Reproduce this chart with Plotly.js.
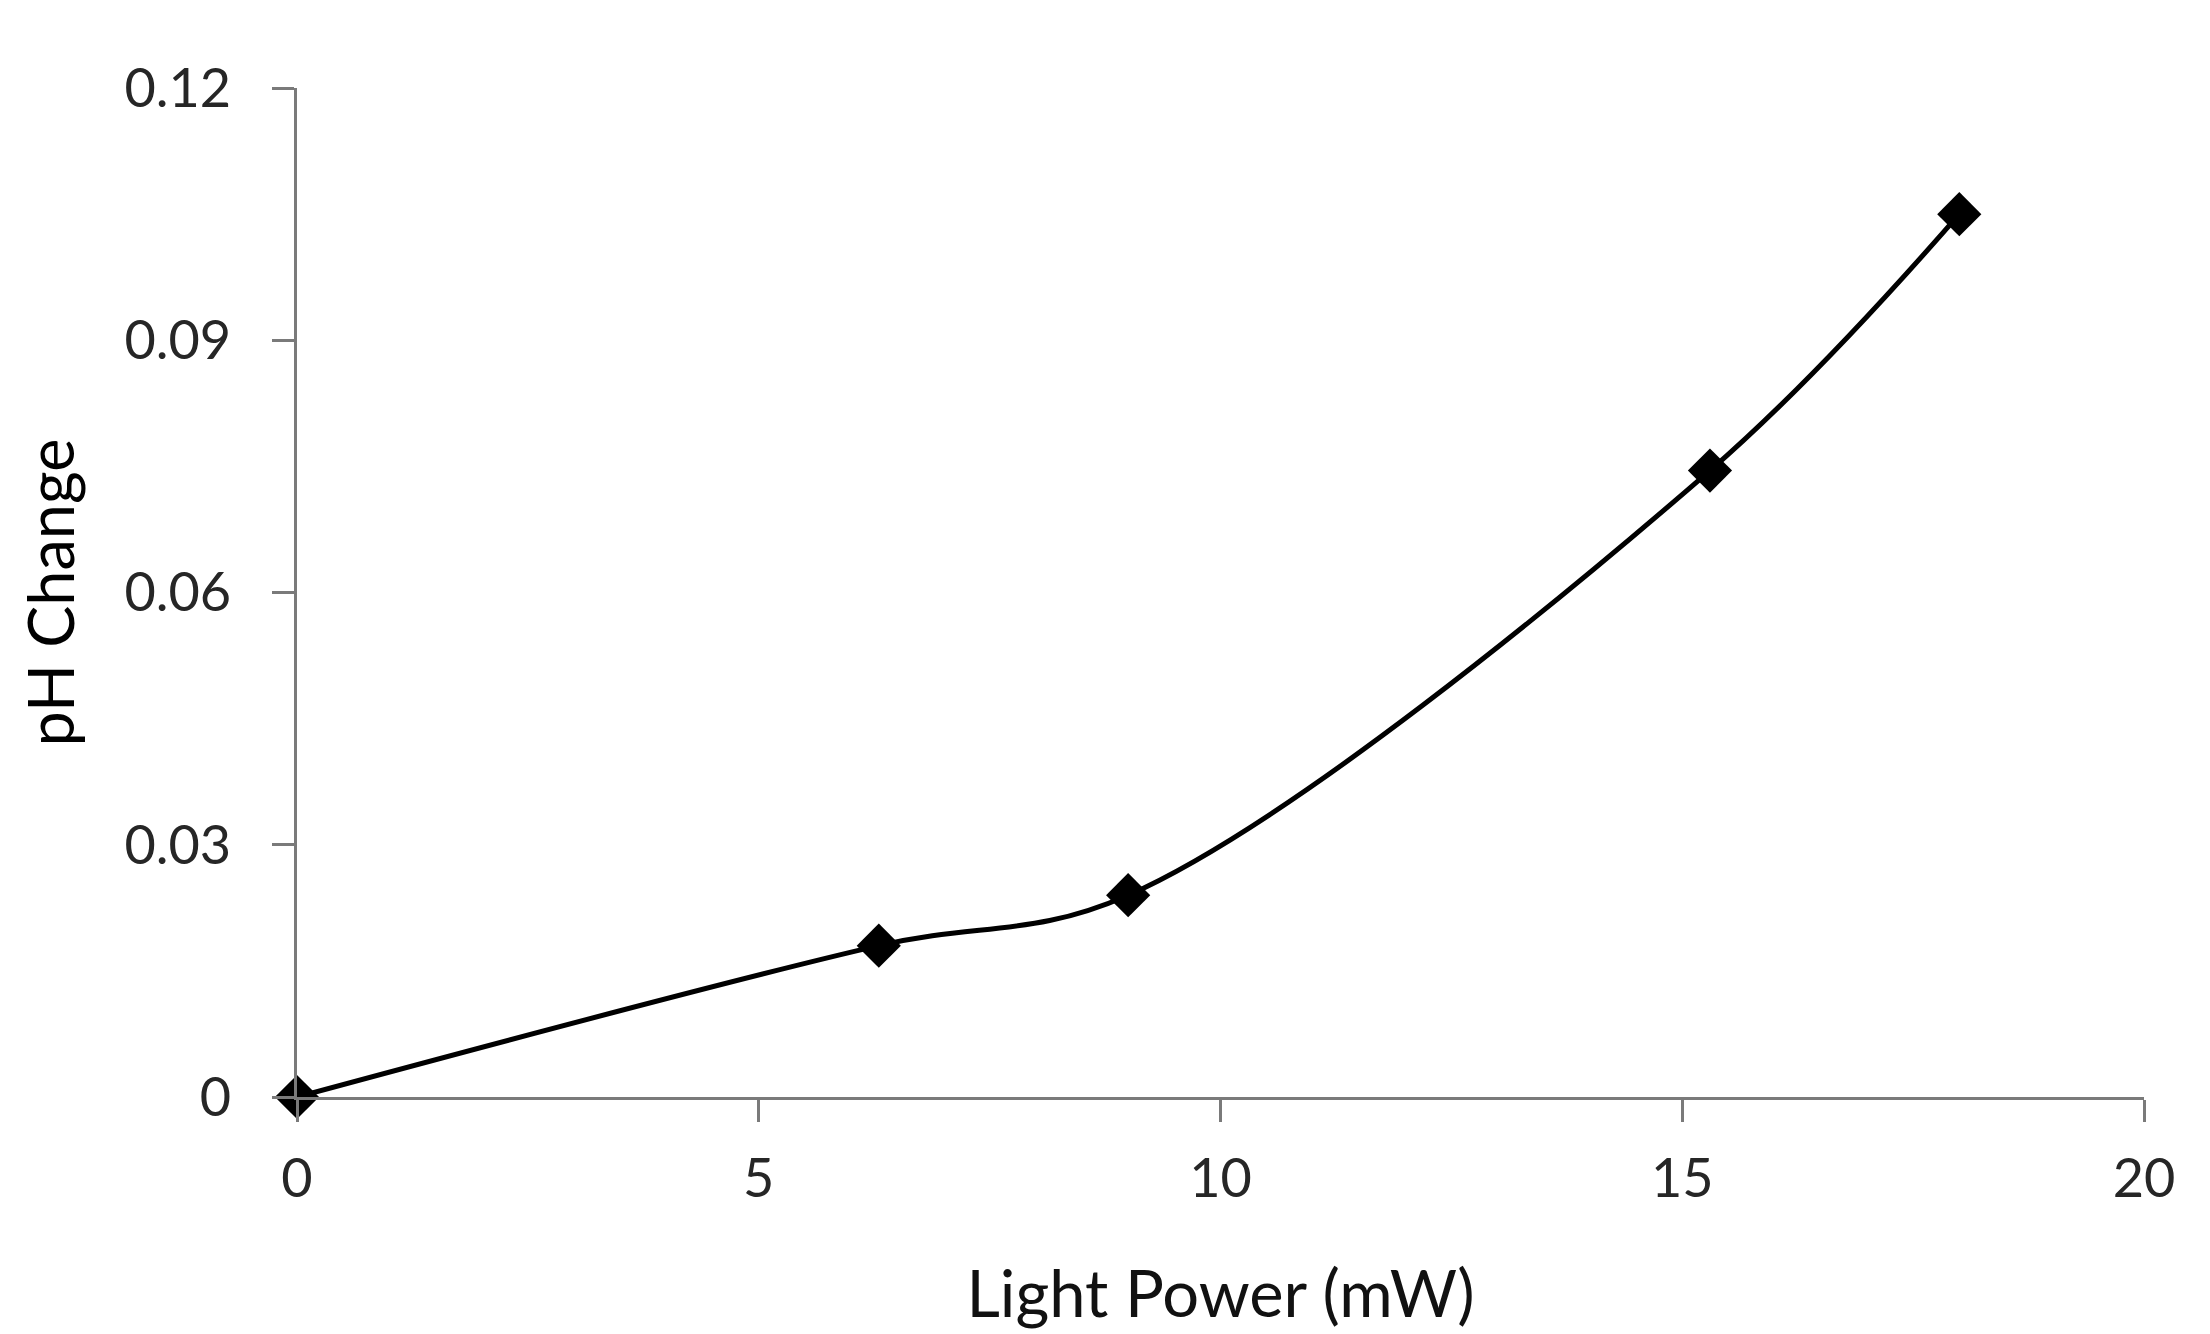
<!DOCTYPE html>
<html>
<head>
<meta charset="utf-8">
<script src="https://cdn.plot.ly/plotly-3.0.1.min.js"></script>
<style>
  html, body { margin: 0; padding: 0; background: #fff; }
  #chart { width: 2210px; height: 1334px; }
</style>
</head>
<body>
<div id="chart"></div>
<script>
// Light power (mW) and measured pH change
var lightPower = [0, 6.3, 9, 15.3, 18];
var phChange = [0, 0.018, 0.024, 0.0745, 0.105];

var xTicks = [0, 5, 10, 15, 20];
var yTicks = [0, 0.03, 0.06, 0.09, 0.12];
var yTickText = ['0', '0.03', '0.06', '0.09', '0.12'];

var axisColor = '#7a7a7a';

var trace = {
  x: lightPower,
  y: phChange,
  mode: 'lines+markers',
  line: { color: '#000', width: 5, shape: 'spline', smoothing: 1 },
  marker: { symbol: 'diamond', size: 34, color: '#000' },
  cliponaxis: false,
  showlegend: false
};

var layout = {
  width: 2210,
  height: 1334,
  margin: { l: 297, r: 66, t: 88, b: 237 },
  paper_bgcolor: '#fff',
  plot_bgcolor: '#fff',
  font: { family: 'Lato, "Open Sans", sans-serif', color: '#262626' },
  xaxis: {
    range: [0, 20],
    tickvals: xTicks,
    ticktext: xTicks.map(String),
    showgrid: false,
    zeroline: false,
    showline: true,
    linecolor: axisColor,
    linewidth: 3,
    ticks: 'outside',
    ticklen: 22,
    tickwidth: 3,
    tickcolor: axisColor,
    ticklabelstandoff: 10,
    tickfont: { size: 54 },
    title: { text: 'Light Power (mW)', font: { size: 65, color: '#111' }, standoff: 64 }
  },
  yaxis: {
    range: [0, 0.12],
    tickvals: yTicks,
    ticktext: yTickText,
    showgrid: false,
    zeroline: false,
    showline: true,
    linecolor: axisColor,
    linewidth: 3,
    ticks: 'outside',
    ticklen: 22,
    tickwidth: 3,
    tickcolor: axisColor,
    ticklabelstandoff: 30,
    tickfont: { size: 54 },
    title: { text: 'pH Change', font: { size: 63, color: '#000' }, standoff: 30 }
  }
};

Plotly.newPlot('chart', [trace], layout, { displayModeBar: false, staticPlot: true });
</script>
</body>
</html>
